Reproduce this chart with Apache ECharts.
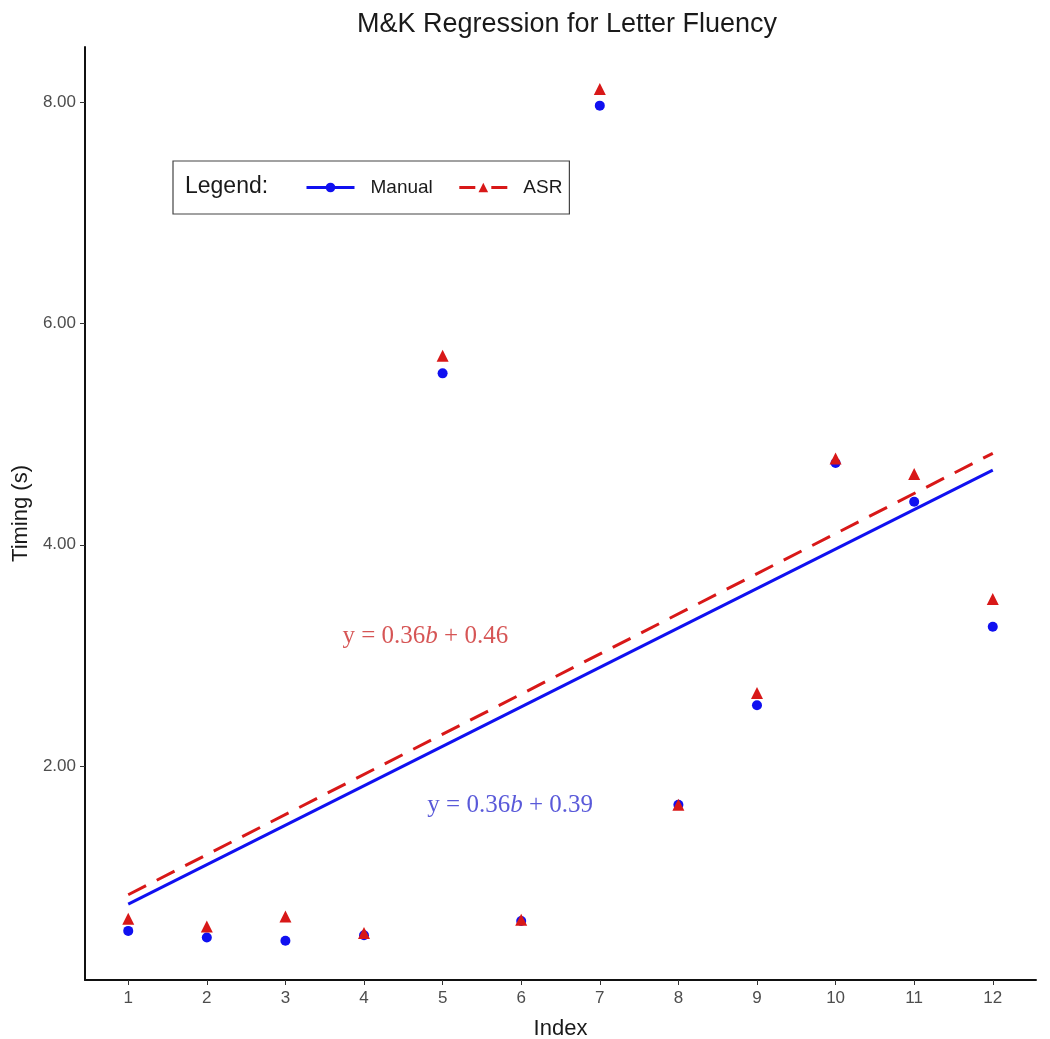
<!DOCTYPE html>
<html>
<head>
<meta charset="utf-8">
<script src="https://cdn.jsdelivr.net/npm/echarts@6/dist/echarts.min.js"></script>
<style>html,body{margin:0;padding:0;background:#fff}#c{width:1050px;height:1039px}</style>
</head>
<body>
<div id="c"></div>
<script>
const indexValues = [1,2,3,4,5,6,7,8,9,10,11,12];
const manualTiming = [0.51,0.45,0.42,0.47,5.55,0.60,7.97,1.65,2.55,4.74,4.39,3.26];
const asrTiming = [0.62,0.55,0.64,0.49,5.71,0.61,8.12,1.65,2.66,4.78,4.64,3.51];
const yTicks = [2,4,6,8];
const xTicks = indexValues;
const manualEq = 'y = 0.36{i|b} + 0.39';
const asrEq = 'y = 0.36{i|b} + 0.46';

function fit(xs, ys){
  const n = xs.length;
  const mx = xs.reduce((a,b)=>a+b,0)/n, my = ys.reduce((a,b)=>a+b,0)/n;
  let sxy=0, sxx=0;
  for(let i=0;i<n;i++){sxy+=(xs[i]-mx)*(ys[i]-my);sxx+=(xs[i]-mx)**2;}
  const s = sxy/sxx, c = my - s*mx;
  const x0 = xs[0], x1 = xs[n-1];
  return [[x0, s*x0+c],[x1, s*x1+c]];
}
const BLUE = '#1010f0', RED = '#d81818';
const chart = echarts.init(document.getElementById('c'));
chart.setOption({
  animation:false,
  backgroundColor:'#fff',
  title:{text:'M&K Regression for Letter Fluency',left:562,top:6,textAlign:'center',
    textStyle:{fontFamily:'Liberation Sans',fontSize:27,fontWeight:'normal',color:'#1a1a1a'}},
  grid:{left:85,right:14,top:47,bottom:59,containLabel:false,outerBoundsMode:'none'},
  legend:{
    data:[{name:'Manual'},{name:'ASR',lineStyle:{type:[16,16]}}],left:173,top:161,
    padding:[17,7,17,132],itemGap:25,itemWidth:48,itemHeight:12,
    borderColor:'#444',borderWidth:1.2,
    lineStyle:{width:3},
    textStyle:{fontFamily:'Liberation Sans',fontSize:19,color:'#1a1a1a',padding:[0,0,0,11]}
  },
  graphic:[{type:'text',left:185,top:175,style:{text:'Legend:',font:'23px "Liberation Sans"',fill:'#1a1a1a'}}],
  xAxis:{type:'value',min:0.45,max:12.55,name:'Index',nameLocation:'middle',nameGap:38,
    nameTextStyle:{fontFamily:'Liberation Sans',fontSize:22,color:'#1a1a1a'},
    axisLine:{lineStyle:{color:'#111',width:2}},
    axisTick:{show:true,length:5,lineStyle:{color:'#333'},customValues:xTicks},
    axisLabel:{customValues:xTicks,fontFamily:'Liberation Sans',fontSize:17,color:'#4d4d4d',margin:10},
    splitLine:{show:false}},
  yAxis:{type:'value',min:0.066,max:8.5,name:'Timing (s)',nameLocation:'middle',nameGap:53,
    nameTextStyle:{fontFamily:'Liberation Sans',fontSize:22,color:'#1a1a1a'},
    axisLine:{show:true,lineStyle:{color:'#111',width:2}},
    axisTick:{show:true,length:5,lineStyle:{color:'#333'},customValues:yTicks},
    axisLabel:{customValues:yTicks,formatter:v=>v.toFixed(2),fontFamily:'Liberation Sans',fontSize:17,color:'#4d4d4d',margin:9},
    splitLine:{show:false}},
  series:[
    {name:'Manual',type:'line',data:fit(indexValues,manualTiming),showSymbol:false,symbol:'circle',symbolSize:9,
      itemStyle:{color:BLUE},lineStyle:{color:BLUE,width:3},z:2},
    {name:'ASR',type:'line',data:fit(indexValues,asrTiming),showSymbol:false,symbol:'triangle',symbolSize:11,
      itemStyle:{color:RED},lineStyle:{color:RED,width:3,type:[20,12]},z:2},
    {name:'Manual',type:'scatter',data:indexValues.map((x,i)=>[x,manualTiming[i]]),symbol:'circle',symbolSize:10,
      itemStyle:{color:BLUE,opacity:1},z:3},
    {name:'ASR',type:'scatter',data:indexValues.map((x,i)=>[x,asrTiming[i]]),symbol:'triangle',symbolSize:12,
      itemStyle:{color:RED,opacity:1},z:4},
    {type:'scatter',symbolSize:0,silent:true,z:5,
      data:[{value:[4.78,3.17],label:{formatter:asrEq,color:'#cc2a2a'}},
            {value:[5.86,1.64],label:{formatter:manualEq,color:'#3030d0'}}],
      label:{show:true,position:'inside',fontFamily:'Liberation Serif',fontSize:25,
        rich:{i:{fontFamily:'Liberation Serif',fontStyle:'italic',fontSize:25}}}}
  ]
});
</script>
</body>
</html>
